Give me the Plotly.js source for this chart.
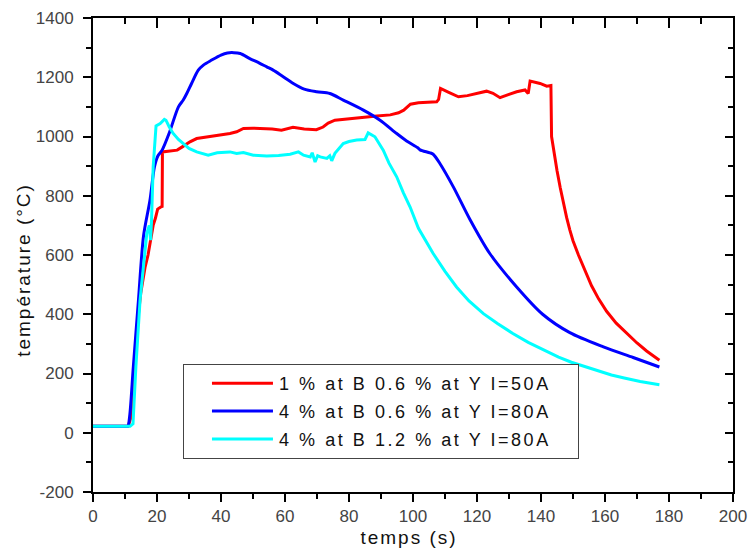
<!DOCTYPE html>
<html><head><meta charset="utf-8">
<script src="https://cdn.plot.ly/plotly-3.0.1.min.js"></script>
<style>
html,body{margin:0;padding:0;background:#fff;}
.xtitle,.ytitle{letter-spacing:2px;}
.g-ytitle{transform:translate(0px,15px);}
.g-xtitle{transform:translate(-4px,1px);}
.legendtext{letter-spacing:2.55px;}
.legendlines path{transform:translate(24.4px,0) scaleX(0.7176);}
.legend rect.bg{width:395px;}
</style></head><body><div id="chart" style="width:750px;height:554px;"></div>
<script>
// Series names
const seriesNames = ["1 % at B 0.6 % at Y I=50A", "4 % at B 0.6 % at Y I=80A", "4 % at B 1.2 % at Y I=80A"];

// Tick labels
const xTickVals = [0,20,40,60,80,100,120,140,160,180,200];
const xTickText = ["0","20","40","60","80","100","120","140","160","180","200"];
const yTickVals = [-200,0,200,400,600,800,1000,1200,1400];
const yTickText = ["-200","0","200","400","600","800","1000","1200","1400"];

// 1 % at B 0.6 % at Y I=50A (red)
const tRed = [0,11,11.8,13,14,14.9,16.3,17.2,17.8,18.8,19.5,20.2,21.2,21.6,21.7,24,26.3,27.9,30.3,32.4,33.5,37.6,39.7,42.8,44.9,47,50,54.3,56,58.9,62.5,66,69.8,71.9,73.5,75.6,79,82.5,88.7,92.9,95.5,97.1,99.2,101.7,104,107.4,108,108.6,111,114.2,117,119.9,123,125,127.2,130,132.4,135,136,136.6,139.7,141.8,143.1,143.3,144,145,146,147,148,149,150,151.7,153.8,155.8,158,160.5,163.5,166.8,170,173,177];
const TRed = [22,22,50,230,380,470,560,600,640,700,724,755,762,764,948,952,954,965,982,993,995,1000,1004,1010,1016,1027,1028,1027,1025,1021,1031,1025,1023,1032,1045,1055,1058,1061,1069,1073,1080,1089,1109,1114,1116,1117,1125,1162,1150,1134,1138,1145,1153,1146,1131,1142,1151,1157,1145,1187,1179,1170,1172,1000,950,885,828,775,727,685,648,600,545,496,452,410,370,335,303,276,245];

// 4 % at B 0.6 % at Y I=80A (blue)
const tBlue = [0,10.5,10.9,11.5,12.6,14.2,15.8,17.8,19.2,20.3,21.6,23.8,26.7,28.2,29.3,30.8,32.9,34.5,37.1,40,42,44,46,49,52,54.3,56.3,59,62.6,66,69.9,74,78.2,84.5,89.7,94.9,98,101.5,102.2,105.3,106.3,108.4,112.6,117.8,124,132.4,140.5,149,159.5,168.8,177];
const TBlue = [22,22,22,60,222,447,665,785,897,935,954,1011,1100,1123,1145,1179,1224,1241,1258,1275,1282,1283,1280,1263,1248,1235,1224,1205,1179,1160,1151,1145,1123,1089,1055,1010,985,962,955,945,940,909,830,720,605,492,400,338,290,254,222];

// 4 % at B 1.2 % at Y I=80A (cyan)
const tCyan = [0,11.6,12.5,12.8,13.4,14.7,16.8,17.6,18,18.3,18.8,19.7,20.3,21,22.3,22.8,23.8,25,26.7,28.2,30,32.4,34.2,36,38.8,42.8,44.9,47,50.1,54.3,58,61.6,64.2,65.8,67.9,68.5,69.4,70.2,71,73.1,74,74.6,75.6,78.2,80,82.4,85,86,88.1,90.7,92.5,94.9,97,99.1,101.7,104,106.3,110,113.6,117.5,122,126.5,131.2,136,141.5,145.5,149.5,154,158,162,166,171,177];
const TCyan = [22,22,30,100,222,447,672,700,650,720,897,1036,1040,1044,1058,1055,1033,1011,990,976,960,948,942,937,945,948,943,946,937,934,936,940,948,937,931,945,914,935,931,926,935,918,943,976,983,988,990,1012,999,954,910,864,810,762,690,645,605,545,492,445,402,368,335,305,275,255,238,222,208,195,185,173,162];

const colors = ["#ff0000", "#0000ff", "#00ffff"];
const FONT = "Liberation Sans, Arial, sans-serif";

const xs = [tRed, tBlue, tCyan];
const ys = [TRed, TBlue, TCyan];
const shapes = ["linear", "spline", "linear"];
const traces = xs.map((x, i) => ({
  x: x, y: ys[i], type: "scatter", mode: "lines", name: seriesNames[i],
  legendgroup: "g" + i,
  line: {color: colors[i], width: 3, shape: shapes[i], smoothing: 0.8}
}));

const axBase = {
  showgrid: false, zeroline: false, showline: true, linecolor: "#000", linewidth: 2,
  tickcolor: "#000", tickwidth: 2, ticklen: 8,
  tickfont: {family: FONT, size: 17, color: "#444"}
};

const layout = {
  width: 750, height: 554,
  margin: {l: 93, r: 17, t: 18, b: 62},
  paper_bgcolor: "#fff", plot_bgcolor: "#fff",
  font: {family: FONT, color: "#111"},
  showlegend: true,
  legend: {
    x: 0.1406, y: 0.270, xanchor: "left", yanchor: "top",
    bgcolor: "#fff", bordercolor: "#444", borderwidth: 1,
    font: {family: FONT, size: 18, color: "#111"},
    itemwidth: 85, traceorder: "grouped", tracegroupgap: 1.5
  },
  xaxis: Object.assign({}, axBase, {
    range: [0, 200], tickmode: "array", tickvals: xTickVals, ticktext: xTickText,
    ticks: "outside", ticklabelstandoff: 0,
    minor: {dtick: 10, tick0: 0, ticks: "outside", ticklen: 5, tickwidth: 2, tickcolor: "#000"},
    title: {text: "temps (s)", font: {family: FONT, size: 19, color: "#111"}, standoff: 4}
  }),
  yaxis: Object.assign({}, axBase, {
    range: [-200, 1400], tickmode: "array", tickvals: yTickVals, ticktext: yTickText,
    ticks: "outside", ticklabelstandoff: 6,
    minor: {dtick: 100, tick0: 0, ticks: "outside", ticklen: 5, tickwidth: 2, tickcolor: "#000"},
    title: {text: "température (°C)", font: {family: FONT, size: 19, color: "#111"}, standoff: 0}
  }),
  xaxis2: Object.assign({}, axBase, {
    overlaying: "x", side: "top", anchor: "y", range: [0, 200], tick0: 0, dtick: 20,
    ticks: "inside", ticklen: 10, showticklabels: false,
    minor: {dtick: 10, ticks: "inside", ticklen: 6, tickwidth: 2, tickcolor: "#000"}
  }),
  yaxis2: Object.assign({}, axBase, {
    overlaying: "y", side: "right", anchor: "x", range: [-200, 1400], tick0: 0, dtick: 200,
    ticks: "inside", ticklen: 8, showticklabels: false,
    minor: {dtick: 100, ticks: "inside", ticklen: 5, tickwidth: 2, tickcolor: "#000"}
  })
};

traces.push({x: [], y: [], xaxis: "x2", yaxis: "y2", type: "scatter", mode: "lines", showlegend: false, hoverinfo: "skip"});

Plotly.newPlot("chart", traces, layout, {staticPlot: true, displayModeBar: false});
</script></body></html>
